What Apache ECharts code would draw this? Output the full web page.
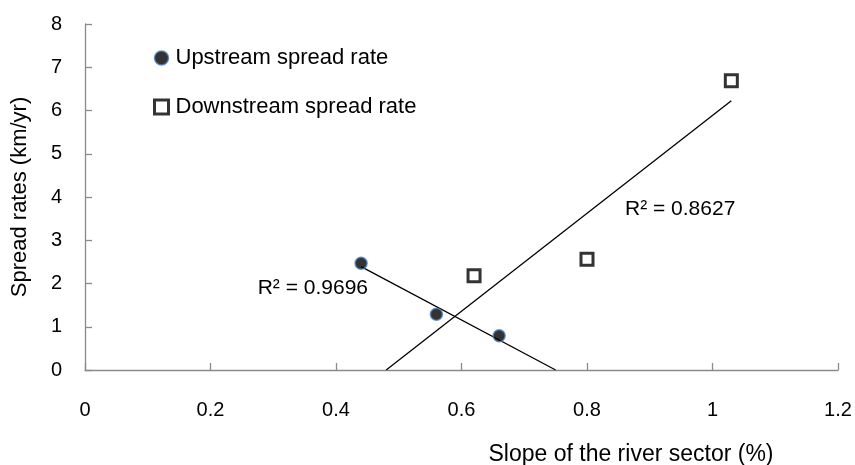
<!DOCTYPE html>
<html>
<head>
<meta charset="utf-8">
<script src="https://cdn.jsdelivr.net/npm/echarts@6/dist/echarts.min.js"></script>
<style>html,body{margin:0;padding:0;background:#fff}#c{width:855px;height:465px}</style>
</head>
<body>
<div id="c"></div>
<script>
const upstreamX = [0.44, 0.56, 0.66];
const upstreamY = [2.47, 1.29, 0.79];
const downstreamX = [0.62, 0.80, 1.03];
const downstreamY = [2.18, 2.56, 6.69];
const xTicks = [0, 0.2, 0.4, 0.6, 0.8, 1, 1.2];
const yTicks = [0, 1, 2, 3, 4, 5, 6, 7, 8];
const r2Labels = ['R² = 0.9696', 'R² = 0.8627'];

function fit(xs, ys) {
  const n = xs.length;
  const mx = xs.reduce((a, b) => a + b, 0) / n;
  const my = ys.reduce((a, b) => a + b, 0) / n;
  let sxy = 0, sxx = 0;
  for (let i = 0; i < n; i++) { sxy += (xs[i] - mx) * (ys[i] - my); sxx += (xs[i] - mx) ** 2; }
  const m = sxy / sxx;
  return { m, b: my - m * mx };
}
const fu = fit(upstreamX, upstreamY);
const fd = fit(downstreamX, downstreamY);
// trendline segments, clipped at y = 0
const upLine = [[Math.min(...upstreamX), fu.m * Math.min(...upstreamX) + fu.b], [-fu.b / fu.m, 0]];
const downLine = [[-fd.b / fd.m, 0], [Math.max(...downstreamX), fd.m * Math.max(...downstreamX) + fd.b]];

const FONT = 'Liberation Sans';
const chart = echarts.init(document.getElementById('c'));
chart.setOption({
  animation: false,
  grid: { left: 85, top: 24, right: 17, bottom: 95 },
  xAxis: {
    type: 'value', min: xTicks[0], max: xTicks[xTicks.length - 1], interval: 0.2,
    splitLine: { show: false },
    axisLine: { lineStyle: { color: '#8a8a8a', width: 1.3 } },
    axisTick: { inside: true, length: 7, lineStyle: { color: '#8a8a8a', width: 1.3 } },
    axisLabel: { color: '#000', fontFamily: FONT, fontSize: 20, margin: 30 }
  },
  yAxis: {
    type: 'value', min: yTicks[0], max: yTicks[yTicks.length - 1], interval: 1,
    splitLine: { show: false },
    axisLine: { show: true, lineStyle: { color: '#8a8a8a', width: 1.3 } },
    axisTick: { show: true, inside: true, length: 7, lineStyle: { color: '#8a8a8a', width: 1.3 } },
    axisLabel: { color: '#000', fontFamily: FONT, fontSize: 20, margin: 23 },
    name: 'Spread rates (km/yr)', nameLocation: 'middle', nameGap: 54,
    nameTextStyle: { color: '#000', fontFamily: FONT, fontSize: 22 }
  },
  legend: {
    orient: 'vertical', left: 148, top: 40, itemGap: 23, itemWidth: 14, itemHeight: 14,
    data: [
      { name: 'Upstream spread rate', itemStyle: { color: '#000', borderColor: '#4a7ebb', borderWidth: 1.5 } },
      { name: 'Downstream spread rate', itemStyle: { color: '#fff', borderColor: '#000', borderWidth: 3 } }
    ],
    textStyle: { color: '#000', fontFamily: FONT, fontSize: 22, lineHeight: 26, padding: [0, 0, 0, 2] }
  },
  graphic: [
    { type: 'text', x: 368, y: 288, style: { text: r2Labels[0], fill: '#000', font: '21px ' + FONT, align: 'right', verticalAlign: 'middle' } },
    { type: 'text', x: 625, y: 209, style: { text: r2Labels[1], fill: '#000', font: '21px ' + FONT, verticalAlign: 'middle' } },
    { type: 'text', x: 631, y: 455, style: { text: 'Slope of the river sector (%)', fill: '#000', font: '23px ' + FONT, align: 'center', verticalAlign: 'middle' } }
  ],
  series: [
    {
      name: 'upTrend', type: 'line', data: upLine, symbol: 'none', silent: true,
      lineStyle: { color: '#000', width: 1.3 }, z: 1
    },
    {
      name: 'downTrend', type: 'line', data: downLine, symbol: 'none', silent: true,
      lineStyle: { color: '#000', width: 1.3 }, z: 1
    },
    {
      name: 'Upstream spread rate', type: 'scatter', symbol: 'circle', symbolSize: 12,
      data: upstreamX.map((x, i) => [x, upstreamY[i]]),
      itemStyle: { color: '#000', borderColor: '#4a7ebb', borderWidth: 1.5 }, z: 3
    },
    {
      name: 'Downstream spread rate', type: 'scatter', symbol: 'rect', symbolSize: 12,
      data: downstreamX.map((x, i) => [x, downstreamY[i]]),
      itemStyle: { color: '#fff', borderColor: '#000', borderWidth: 3 }, z: 3
    }
  ]
});
</script>
</body>
</html>
